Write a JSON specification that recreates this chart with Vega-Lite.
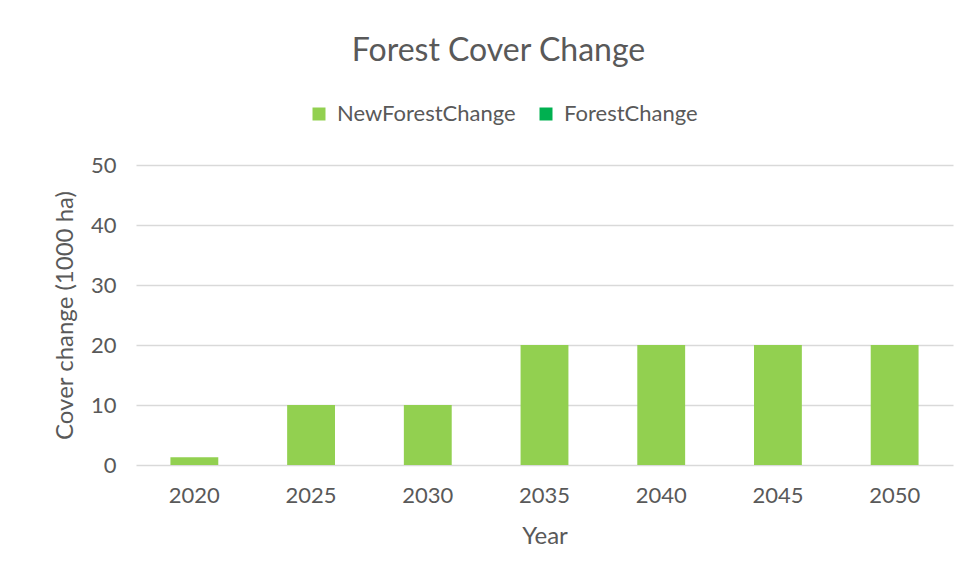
{
  "$schema": "https://vega.github.io/schema/vega-lite/v6.json",
  "autosize": "none",
  "width": 817,
  "height": 300,
  "padding": {"left": 136, "top": 165, "right": 16, "bottom": 115},
  "background": "white",
  "title": {
    "text": "Forest Cover Change",
    "font": "Lato",
    "fontSize": 32,
    "fontWeight": "normal",
    "color": "#595959",
    "anchor": "middle",
    "frame": "group",
    "dx": -46,
    "offset": 35
  },
  "data": {
    "values": [
      {"Year": "2020", "Series": "NewForestChange", "Value": 1.3},
      {"Year": "2025", "Series": "NewForestChange", "Value": 10},
      {"Year": "2030", "Series": "NewForestChange", "Value": 10},
      {"Year": "2035", "Series": "NewForestChange", "Value": 20},
      {"Year": "2040", "Series": "NewForestChange", "Value": 20},
      {"Year": "2045", "Series": "NewForestChange", "Value": 20},
      {"Year": "2050", "Series": "NewForestChange", "Value": 20},
      {"Year": "2020", "Series": "ForestChange", "Value": 0},
      {"Year": "2025", "Series": "ForestChange", "Value": 0},
      {"Year": "2030", "Series": "ForestChange", "Value": 0},
      {"Year": "2035", "Series": "ForestChange", "Value": 0},
      {"Year": "2040", "Series": "ForestChange", "Value": 0},
      {"Year": "2045", "Series": "ForestChange", "Value": 0},
      {"Year": "2050", "Series": "ForestChange", "Value": 0}
    ]
  },
  "mark": {"type": "bar"},
  "encoding": {
    "x": {
      "field": "Year",
      "type": "ordinal",
      "scale": {"paddingInner": 0.59, "paddingOuter": 0.295},
      "axis": {
        "title": "Year",
        "labelAngle": 0,
        "domain": false,
        "ticks": false,
        "labelPadding": 20,
        "titlePadding": 18
      }
    },
    "y": {
      "field": "Value",
      "type": "quantitative",
      "stack": "zero",
      "scale": {"domain": [0, 50]},
      "axis": {
        "title": "Cover change (1000 ha)",
        "values": [0, 10, 20, 30, 40, 50],
        "domain": false,
        "ticks": false,
        "labelPadding": 20,
        "titlePadding": 13
      }
    },
    "color": {
      "field": "Series",
      "type": "nominal",
      "scale": {"domain": ["NewForestChange", "ForestChange"], "range": ["#92D050", "#00B050"]},
      "legend": {
        "title": null,
        "orient": "none",
        "direction": "horizontal",
        "legendX": 172,
        "legendY": -62,
        "symbolType": "square",
        "symbolSize": 169,
        "symbolStrokeWidth": 0,
        "labelOffset": 7,
        "columnPadding": 19,
        "labelLimit": 400,
        "labelFont": "Lato",
        "labelFontSize": 22,
        "labelColor": "#595959"
      }
    },
    "order": {"field": "Series", "sort": "descending"}
  },
  "config": {
    "view": {"stroke": null},
    "axis": {
      "labelFont": "Lato",
      "labelFontSize": 22,
      "labelColor": "#595959",
      "titleFont": "Lato",
      "titleFontSize": 24,
      "titleFontWeight": "normal",
      "titleColor": "#595959",
      "gridColor": "#D9D9D9",
      "gridWidth": 1.5
    },
    "axisX": {"grid": false}
  }
}
